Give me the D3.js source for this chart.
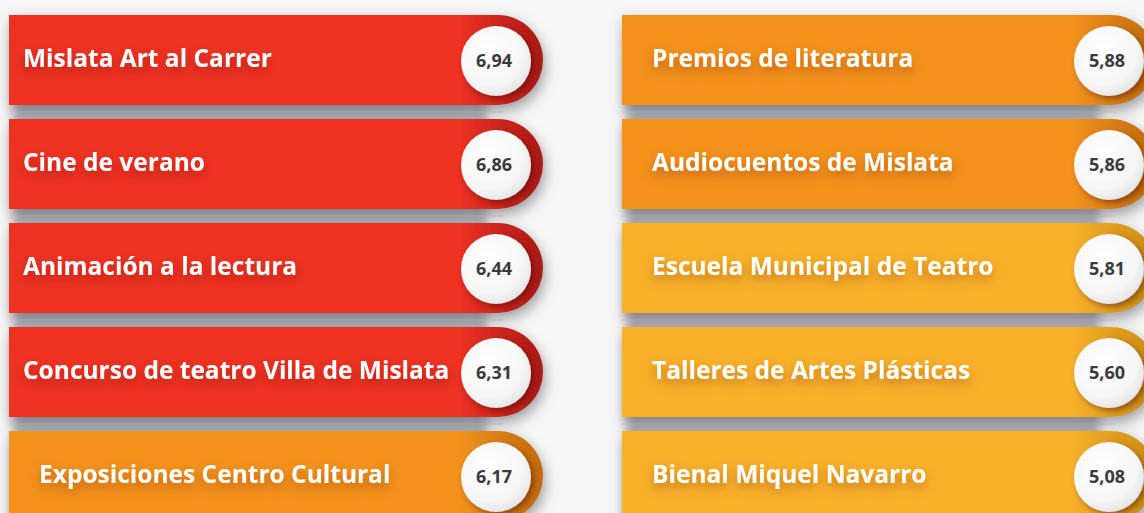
<!DOCTYPE html>
<html>
<head>
<meta charset="utf-8">
<script src="https://cdn.jsdelivr.net/npm/d3@7/dist/d3.min.js"></script>
<style>
  html, body { margin: 0; padding: 0; background: #ffffff; }
  svg { display: block; }
</style>
</head>
<body>
<div id="chart"></div>
<script>
// ---- data ----
const leftLabels  = ["Mislata Art al Carrer", "Cine de verano", "Animación a la lectura", "Concurso de teatro Villa de Mislata", "Exposiciones Centro Cultural"];
const leftValues  = [6.94, 6.86, 6.44, 6.31, 6.17];
const leftTiers   = ["red", "red", "red", "red", "orange"];
const rightLabels = ["Premios de literatura", "Audiocuentos de Mislata", "Escuela Municipal de Teatro", "Talleres de Artes Plásticas", "Bienal Miquel Navarro"];
const rightValues = [5.88, 5.86, 5.81, 5.60, 5.08];
const rightTiers  = ["orange", "orange", "yellow", "yellow", "yellow"];
const tierNames   = ["red", "orange", "yellow"];
const tierColors  = ["#ee3124", "#f4921f", "#f9b12b"];
const tierDark    = ["#a91a15", "#bf6a0c", "#c98a14"];

// ---- layout ----
const W = 1144, H = 513;
const svg = d3.select("#chart").append("svg").attr("width", W).attr("height", H);
const defs = svg.append("defs");

const colorScale = d3.scaleOrdinal().domain(tierNames).range(tierColors);
const darkScale  = d3.scaleOrdinal().domain(tierNames).range(tierDark);

const y = d3.scaleBand().domain(d3.range(5)).range([15, 15 + 4 * 104 + 90]).paddingInner(14 / 104).paddingOuter(0);
const colX = d3.scaleOrdinal().domain(["left", "right"]).range([9, 622]);
const cardW = 534;

// filters
function addShadow(id, std, dx, dy, color, op, pad) {
  const f = defs.append("filter").attr("id", id).attr("x", -pad[0]).attr("y", -pad[1]).attr("width", 1 + 2 * pad[0]).attr("height", 1 + 2 * pad[1]);
  f.append("feGaussianBlur").attr("in", "SourceAlpha").attr("stdDeviation", std).attr("result", "b");
  f.append("feOffset").attr("in", "b").attr("dx", dx).attr("dy", dy).attr("result", "o");
  f.append("feFlood").attr("flood-color", color).attr("flood-opacity", op).attr("result", "f");
  f.append("feComposite").attr("in", "f").attr("in2", "o").attr("operator", "in").attr("result", "s");
  const m = f.append("feMerge"); m.append("feMergeNode").attr("in", "s"); m.append("feMergeNode").attr("in", "SourceGraphic");
}
addShadow("cardShadow", 7, 2, 6, "#5d6068", 0.6, [0.2, 0.4]);
addShadow("textShadow", 6, 0, 5, "#5a1a00", 0.35, [0.1, 0.7]);
addShadow("circShadow", 3, 3, 3, "#3a0a00", 0.45, [0.4, 0.4]);
const blur = defs.append("filter").attr("id", "soft").attr("x", -0.2).attr("y", -0.2).attr("width", 1.4).attr("height", 1.4);
blur.append("feGaussianBlur").attr("stdDeviation", 5);

// gradients per tier
tierNames.forEach(t => {
  const g = defs.append("linearGradient").attr("id", "grad-" + t).attr("x1", 0).attr("x2", 1).attr("y1", 0).attr("y2", 0);
  g.append("stop").attr("offset", "0%").attr("stop-color", colorScale(t));
  g.append("stop").attr("offset", "84%").attr("stop-color", colorScale(t));
  g.append("stop").attr("offset", "100%").attr("stop-color", darkScale(t));
});
const cg = defs.append("radialGradient").attr("id", "circGrad").attr("cx", "40%").attr("cy", "35%").attr("r", "70%");
cg.append("stop").attr("offset", "0%").attr("stop-color", "#ffffff");
cg.append("stop").attr("offset", "70%").attr("stop-color", "#f6f6f6");
cg.append("stop").attr("offset", "100%").attr("stop-color", "#e4e4e4");

// background
svg.append("rect").attr("width", W).attr("height", H).attr("fill", "#f7f7f7");
const cols = ["left", "right"];
svg.selectAll("rect.backdrop").data(cols).join("rect").attr("class", "backdrop")
  .attr("x", d => colX(d) + 4)
  .attr("y", y(0) + 30)
  .attr("width", cardW - 60)
  .attr("height", H)
  .attr("fill", "#b1b3b7")
  .attr("filter", "url(#soft)");
// faint light lines in gaps
const gaps = d3.range(4);
cols.forEach(c => {
  svg.selectAll(null).data(gaps).join("line")
    .attr("x1", colX(c)).attr("x2", colX(c) + cardW - 40)
    .attr("y1", d => y(d) + y.bandwidth() + 7).attr("y2", d => y(d) + y.bandwidth() + 7)
    .attr("stroke", "#d0d2d5").attr("stroke-width", 1).attr("opacity", 0.7);
});

function cardPath(x0, y0, w, h) {
  const r = h / 2;
  return `M${x0},${y0}H${x0 + w - r}A${r},${r} 0 0 1 ${x0 + w - r},${y0 + h}H${x0}Z`;
}

const data = [];
leftLabels.forEach((l, i) => data.push({ col: "left", i, label: l, value: leftValues[i], tier: leftTiers[i] }));
rightLabels.forEach((l, i) => data.push({ col: "right", i, label: l, value: rightValues[i], tier: rightTiers[i] }));

const fmt = v => d3.format(".2f")(v).replace(".", ",");

const rows = svg.selectAll("g.row").data(data).join("g").attr("class", "row");

rows.append("path")
  .attr("d", d => cardPath(colX(d.col), y(d.i), cardW, y.bandwidth()))
  .attr("fill", d => `url(#grad-${d.tier})`)
  .attr("filter", "url(#cardShadow)");

rows.append("text")
  .attr("x", d => colX(d.col) + (d.tier === "red" ? 14 : 30))
  .attr("y", d => y(d.i) + y.bandwidth() / 2)
  .attr("dy", "0.3em")
  .attr("fill", "#ffffff")
  .attr("font-family", "'Open Sans', sans-serif")
  .attr("font-weight", 700)
  .attr("font-size", 24.5)
  .attr("filter", "url(#textShadow)")
  .text(d => d.label);

rows.append("circle")
  .attr("cx", d => colX(d.col) + cardW - 47)
  .attr("cy", d => y(d.i) + y.bandwidth() / 2 + 1)
  .attr("r", 35)
  .attr("fill", "url(#circGrad)")
  .attr("filter", "url(#circShadow)");

rows.append("text")
  .attr("x", d => colX(d.col) + cardW - 49)
  .attr("y", d => y(d.i) + y.bandwidth() / 2 + 1)
  .attr("dy", "0.35em")
  .attr("text-anchor", "middle")
  .attr("fill", "#3b3b3d")
  .attr("font-family", "'Open Sans', sans-serif")
  .attr("font-weight", 700)
  .attr("font-size", 18)
  .text(d => fmt(d.value));
</script>
</body>
</html>
